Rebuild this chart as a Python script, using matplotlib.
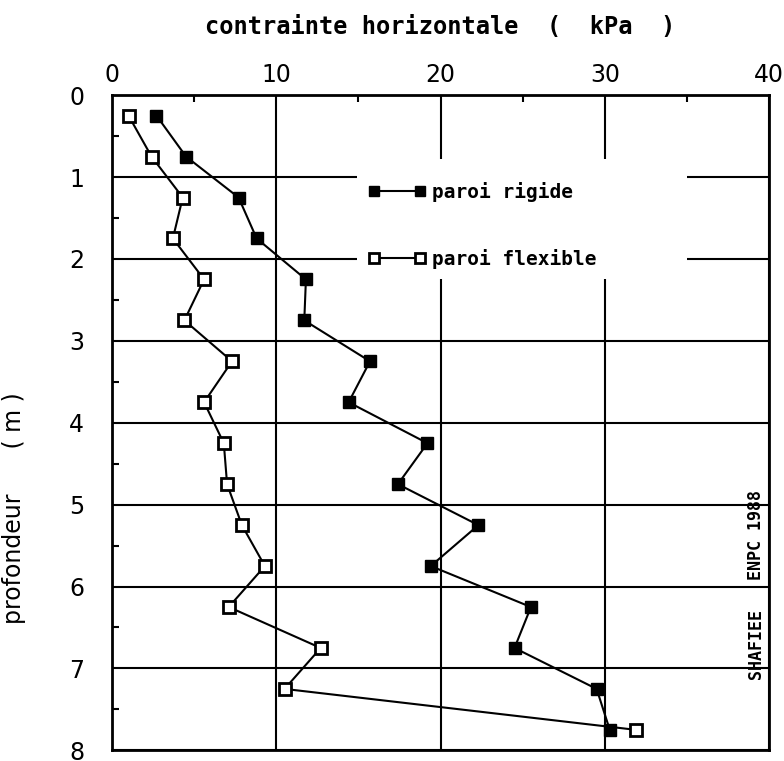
import matplotlib
matplotlib.use("Agg")
import matplotlib.pyplot as plt
from matplotlib.ticker import MultipleLocator
from matplotlib.patches import Rectangle

# Data
depth = [0.25, 0.75, 1.25, 1.75, 2.25, 2.75, 3.25, 3.75,
         4.25, 4.75, 5.25, 5.75, 6.25, 6.75, 7.25, 7.75]

rigide = [2.7, 4.5, 7.7, 8.8, 11.8, 11.7, 15.7, 14.4,
          19.2, 17.4, 22.3, 19.4, 25.5, 24.5, 29.5, 30.3]

flexible = [1.0, 2.4, 4.3, 3.7, 5.6, 4.4, 7.3, 5.6,
            6.8, 7.0, 7.9, 9.3, 7.1, 12.7, 10.5, 31.9]

xticks = [0, 10, 20, 30, 40]
yticks = [0, 1, 2, 3, 4, 5, 6, 7, 8]

plt.rcParams['font.family'] = ['DejaVu Sans']

fig = plt.figure(figsize=(7.84, 7.61), dpi=100)
ax = fig.add_axes([0.143, 0.014, 0.838, 0.861])

# Curves
ax.plot(rigide, depth, color='black', linewidth=1.5, marker='s',
        markersize=9, markerfacecolor='black', markeredgecolor='black',
        label='paroi rigide', zorder=3)
ax.plot(flexible, depth, color='black', linewidth=1.5, marker='s',
        markersize=8, markerfacecolor='white', markeredgecolor='black',
        markeredgewidth=2, label='paroi flexible', zorder=3)

# Axes
ax.set_xlim(0, 40)
ax.set_ylim(8, 0)
ax.xaxis.tick_top()
ax.xaxis.set_label_position('top')
ax.set_xticks(xticks)
ax.set_yticks(yticks)
ax.xaxis.set_minor_locator(MultipleLocator(5))
ax.yaxis.set_minor_locator(MultipleLocator(0.5))
ax.tick_params(which='major', length=0, labelsize=17, pad=6)
ax.tick_params(axis='y', which='major', pad=20)
ax.tick_params(which='minor', direction='in', length=5, width=1.5)
for s in ax.spines.values():
    s.set_linewidth(2)

ax.grid(True, which='major', color='black', linewidth=1.5)

ax.set_xlabel("contrainte horizontale  (  kPa  )", fontsize=17,
              family=['DejaVu Sans Mono'], fontweight='bold')
ax.xaxis.set_label_coords(0.5, 1.094)
ax.set_ylabel("profondeur      ( m )", fontsize=17, family=['DejaVu Sans'])
ax.yaxis.set_label_coords(-0.131, 0.37)

# White area behind the legend (hides the grid lines)
ax.add_patch(Rectangle((14.9, 0.78), 20.1, 1.47, facecolor='white',
                       edgecolor='none', zorder=2.5))

leg = ax.legend(loc='upper left', bbox_to_anchor=(0.389, 0.868),
                numpoints=2, handlelength=3.0, handletextpad=0.3,
                frameon=False, labelspacing=2.45, borderpad=0,
                borderaxespad=0,
                prop={'family': 'DejaVu Sans Mono', 'weight': 'bold',
                      'size': 14})
for h in leg.legend_handles:
    h.set_markersize(7)

# Signature on the right edge
ax.text(39.75, 4.82, "ENPC 1988", rotation=90, ha='right', va='top',
        fontsize=12, fontweight='bold', family=['DejaVu Sans Mono'])
ax.text(39.75, 6.28, "SHAFIEE", rotation=90, ha='right', va='top',
        fontsize=12, fontweight='bold', family=['DejaVu Sans Mono'])

fig.savefig("out.png", dpi=100)
